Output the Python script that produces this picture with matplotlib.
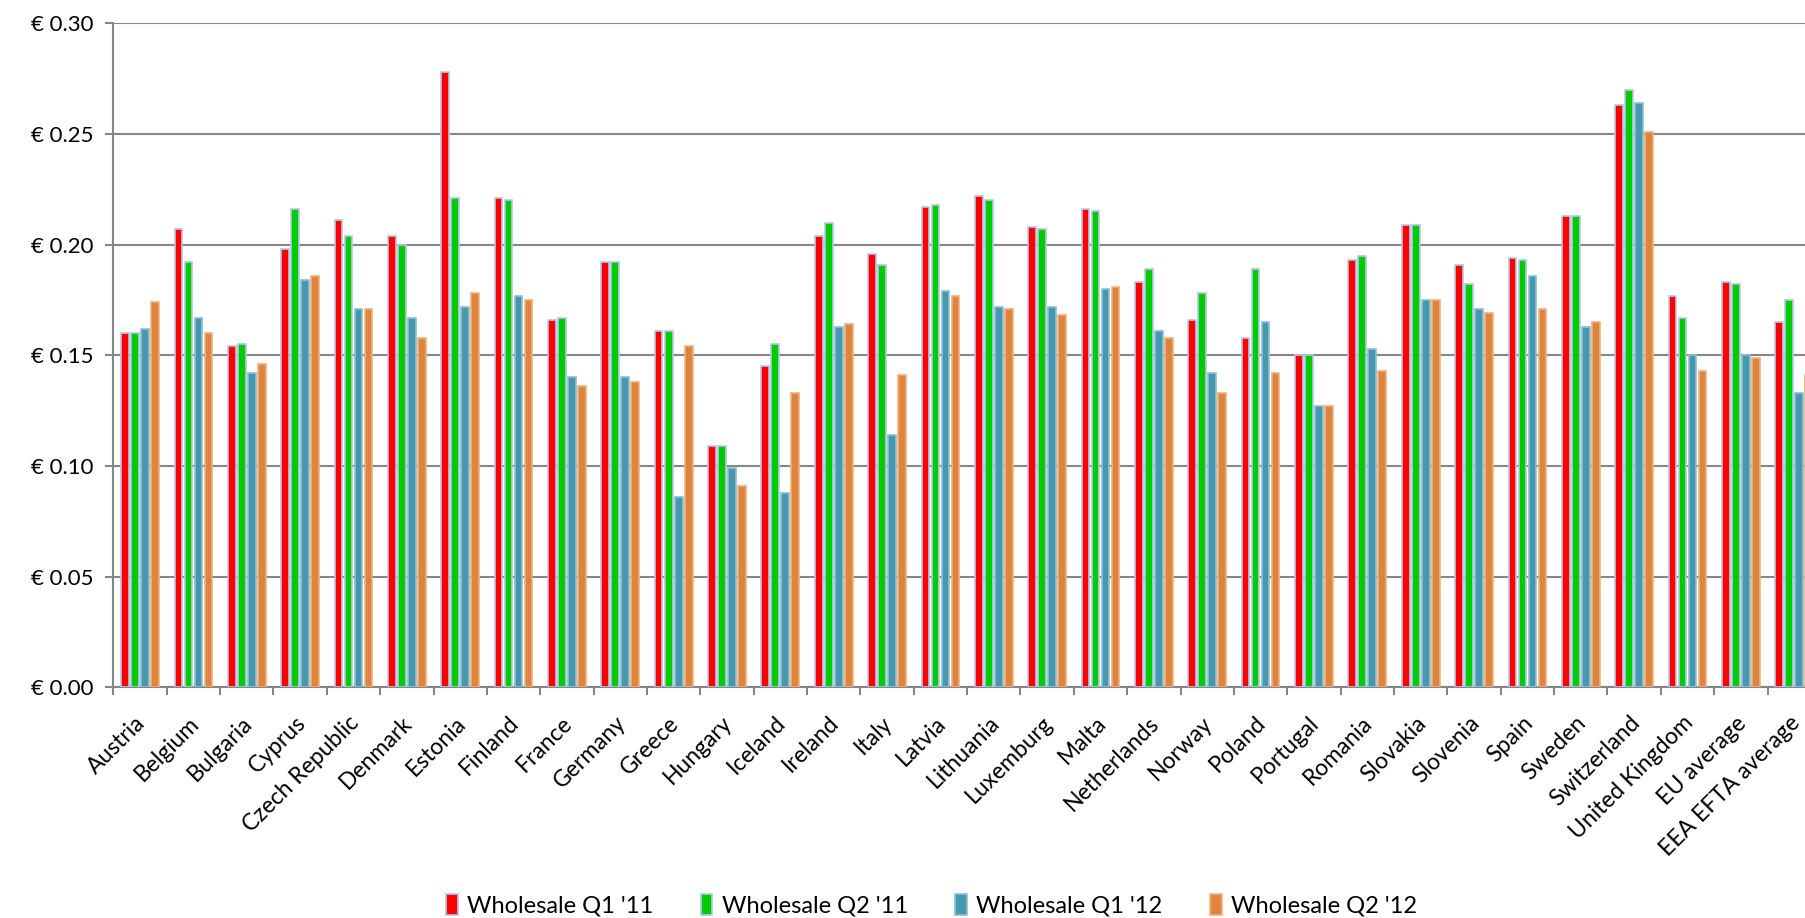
import numpy as np
import matplotlib
matplotlib.use('Agg')
import matplotlib.pyplot as plt
from matplotlib.ticker import MultipleLocator, FixedLocator, FuncFormatter

countries = ['Austria', 'Belgium', 'Bulgaria', 'Cyprus', 'Czech Republic', 'Denmark',
             'Estonia', 'Finland', 'France', 'Germany', 'Greece', 'Hungary', 'Iceland',
             'Ireland', 'Italy', 'Latvia', 'Lithuania', 'Luxemburg', 'Malta',
             'Netherlands', 'Norway', 'Poland', 'Portugal', 'Romania', 'Slovakia',
             'Slovenia', 'Spain', 'Sweden', 'Switzerland', 'United Kingdom',
             'EU average', 'EEA EFTA average']

q1_11 = [0.160, 0.207, 0.154, 0.198, 0.211, 0.204, 0.278, 0.221, 0.166, 0.192,
         0.161, 0.109, 0.145, 0.204, 0.196, 0.217, 0.222, 0.208, 0.216, 0.183,
         0.166, 0.158, 0.150, 0.193, 0.209, 0.191, 0.194, 0.213, 0.263, 0.177,
         0.183, 0.165]
q2_11 = [0.160, 0.192, 0.155, 0.216, 0.204, 0.200, 0.221, 0.220, 0.167, 0.192,
         0.161, 0.109, 0.155, 0.210, 0.191, 0.218, 0.220, 0.207, 0.215, 0.189,
         0.178, 0.189, 0.150, 0.195, 0.209, 0.182, 0.193, 0.213, 0.270, 0.167,
         0.182, 0.175]
q1_12 = [0.162, 0.167, 0.142, 0.184, 0.171, 0.167, 0.172, 0.177, 0.140, 0.140,
         0.086, 0.099, 0.088, 0.163, 0.114, 0.179, 0.172, 0.172, 0.180, 0.161,
         0.142, 0.165, 0.127, 0.153, 0.175, 0.171, 0.186, 0.163, 0.264, 0.150,
         0.150, 0.133]
q2_12 = [0.174, 0.160, 0.146, 0.186, 0.171, 0.158, 0.178, 0.175, 0.136, 0.138,
         0.154, 0.091, 0.133, 0.164, 0.141, 0.177, 0.171, 0.168, 0.181, 0.158,
         0.133, 0.142, 0.127, 0.143, 0.175, 0.169, 0.171, 0.165, 0.251, 0.143,
         0.149, 0.141]

series = [q1_11, q2_11, q1_12, q2_12]
labels = ["Wholesale Q1 '11", "Wholesale Q2 '11", "Wholesale Q1 '12", "Wholesale Q2 '12"]
colors = ['#ff0000', '#00cc00', '#4598b0', '#dd843f']
edges = ['#b4c7e7', '#b4c7e7', '#8fc0d0', '#f0b07a']

plt.rcParams['font.family'] = ['Lato', 'DejaVu Sans']
grey = '#868686'

fig = plt.figure(figsize=(18.05, 9.18), dpi=100)
ax = fig.add_axes([0.0628, 0.2513, 0.946, 0.7233])

x = np.arange(len(countries)) + 0.5
slot = 0.1875
for k, (vals, lab, c, e) in enumerate(zip(series, labels, colors, edges)):
    ax.bar(x + (k - 1.5) * slot, vals, width=0.145, color=c, edgecolor=e,
           linewidth=1.2, label=lab, zorder=3)

ax.set_xlim(0, len(countries))
ax.set_ylim(0, 0.30)
ax.yaxis.set_major_locator(MultipleLocator(0.05))
ax.yaxis.set_major_formatter(FuncFormatter(lambda v, p: '\u20ac %.2f' % v))
ax.grid(axis='y', color=grey, linewidth=1.5, zorder=0)

# major ticks are invisible, only carry the labels (slightly left of centre)
ax.set_xticks(x - 0.1)
ax.set_xticklabels(countries, rotation=45, ha='right', va='top',
                   rotation_mode='anchor', fontsize=16.5)
ax.xaxis.set_minor_locator(FixedLocator(np.arange(len(countries) + 1)))
ax.tick_params(axis='x', which='major', length=0, pad=18)
ax.tick_params(axis='x', which='minor', length=6, width=1.5, color=grey)
ax.tick_params(axis='y', length=6, width=1.5, color=grey, labelsize=16, pad=8)

for s in ['top', 'right']:
    ax.spines[s].set_visible(False)
for s in ['left', 'bottom']:
    ax.spines[s].set_color(grey)
    ax.spines[s].set_linewidth(1.5)

fig.legend(loc='center', bbox_to_anchor=(0.516, 0.014), ncol=4, frameon=False,
           fontsize=17, handlelength=0.5, handleheight=1.0, handletextpad=0.4,
           columnspacing=2.0)

plt.savefig('out.png', dpi=100)
